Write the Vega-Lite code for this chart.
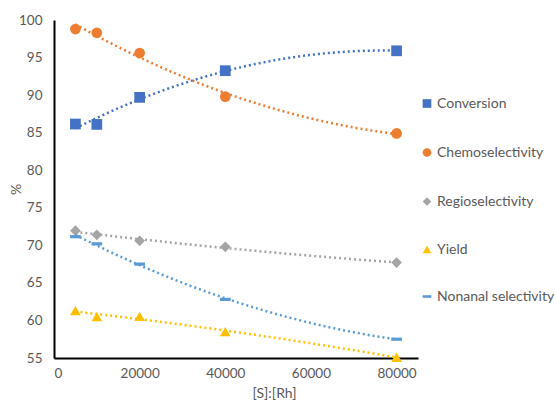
{
  "$schema": "https://vega.github.io/schema/vega-lite/v6.json",
  "autosize": "none",
  "width": 364,
  "height": 338,
  "padding": {"left": 54, "top": 20, "right": 138, "bottom": 48},
  "background": "white",
  "config": {
    "view": {"stroke": null},
    "font": "Lato",
    "axis": {"grid": false, "ticks": false, "domainColor": "black", "domainWidth": 2, "labelColor": "#595959", "labelFontSize": 13.5, "titleColor": "#595959", "titleFontSize": 14, "titleFontWeight": "normal", "labelFont": "Lato", "titleFont": "Lato"},
    "legend": {"labelFont": "Lato", "labelColor": "#595959", "labelFontSize": 14}
  },
  "data": {"values": [
    {"series": "Conversion", "x": 5000, "y": 86.15},
    {"series": "Conversion", "x": 10000, "y": 86.1},
    {"series": "Conversion", "x": 20000, "y": 89.7},
    {"series": "Conversion", "x": 40000, "y": 93.25},
    {"series": "Conversion", "x": 80000, "y": 95.9},
    {"series": "Chemoselectivity", "x": 5000, "y": 98.8},
    {"series": "Chemoselectivity", "x": 10000, "y": 98.3},
    {"series": "Chemoselectivity", "x": 20000, "y": 95.6},
    {"series": "Chemoselectivity", "x": 40000, "y": 89.8},
    {"series": "Chemoselectivity", "x": 80000, "y": 84.9},
    {"series": "Regioselectivity", "x": 5000, "y": 71.95},
    {"series": "Regioselectivity", "x": 10000, "y": 71.4},
    {"series": "Regioselectivity", "x": 20000, "y": 70.6},
    {"series": "Regioselectivity", "x": 40000, "y": 69.8},
    {"series": "Regioselectivity", "x": 80000, "y": 67.7},
    {"series": "Yield", "x": 5000, "y": 61.3},
    {"series": "Yield", "x": 10000, "y": 60.5},
    {"series": "Yield", "x": 20000, "y": 60.55},
    {"series": "Yield", "x": 40000, "y": 58.5},
    {"series": "Yield", "x": 80000, "y": 55.1},
    {"series": "Nonanal selectivity", "x": 5000, "y": 71.15},
    {"series": "Nonanal selectivity", "x": 10000, "y": 70.2},
    {"series": "Nonanal selectivity", "x": 20000, "y": 67.5},
    {"series": "Nonanal selectivity", "x": 40000, "y": 62.8},
    {"series": "Nonanal selectivity", "x": 80000, "y": 57.5}
  ]},
  "encoding": {
    "x": {"field": "x", "type": "quantitative", "scale": {"domain": [0, 85000], "nice": false}, "axis": {"values": [0, 20000, 40000, 60000, 80000], "format": "d", "title": "[S]:[Rh]", "labelPadding": 8, "titlePadding": 7, "titleX": 220}},
    "y": {"field": "y", "type": "quantitative", "scale": {"domain": [55, 100], "nice": false, "zero": false}, "axis": {"values": [55, 60, 65, 70, 75, 80, 85, 90, 95, 100], "title": "%", "labelPadding": 12, "titleX": -31, "titleY": 169, "titleAngle": -90, "titleBaseline": "bottom", "titleAlign": "center"}}
  },
  "layer": [
    {
      "mark": {"type": "point", "filled": true, "opacity": 1, "size": 115},
      "encoding": {
        "shape": {"field": "series", "type": "nominal", "scale": {"domain": ["Conversion", "Chemoselectivity", "Regioselectivity", "Yield", "Nonanal selectivity"], "range": ["square", "circle", "diamond", "triangle-up", "M-1,-0.3L1,-0.3L1,0.3L-1,0.3Z"]}, "legend": {"title": null, "orient": "none", "legendX": 366, "legendY": 76.5, "padding": 0, "rowPadding": 33, "symbolSize": 75, "symbolOpacity": 1, "labelOffset": 3}},
        "color": {"field": "series", "type": "nominal", "scale": {"domain": ["Conversion", "Chemoselectivity", "Regioselectivity", "Yield", "Nonanal selectivity"], "range": ["#4472C4", "#ED7D31", "#A5A5A5", "#FFC000", "#5B9BD5"]}, "legend": {"title": null, "orient": "none", "legendX": 366, "legendY": 76.5, "padding": 0, "rowPadding": 33, "symbolSize": 75, "symbolOpacity": 1, "labelOffset": 3}}
      }
    },
    {
      "transform": [{"regression": "y", "on": "x", "groupby": ["series"], "method": "poly", "order": 2, "extent": [5000, 80000]}],
      "mark": {"type": "line", "strokeDash": [2, 3], "strokeWidth": 2.5, "strokeCap": "butt"},
      "encoding": {"detail": {"field": "series", "type": "nominal"}, "stroke": {"field": "series", "type": "nominal", "scale": {"domain": ["Conversion", "Chemoselectivity", "Regioselectivity", "Yield", "Nonanal selectivity"], "range": ["#4472C4", "#ED7D31", "#A5A5A5", "#FFC000", "#5B9BD5"]}, "legend": null}}
    }
  ],
  "resolve": {"legend": {"stroke": "independent"}}
}
